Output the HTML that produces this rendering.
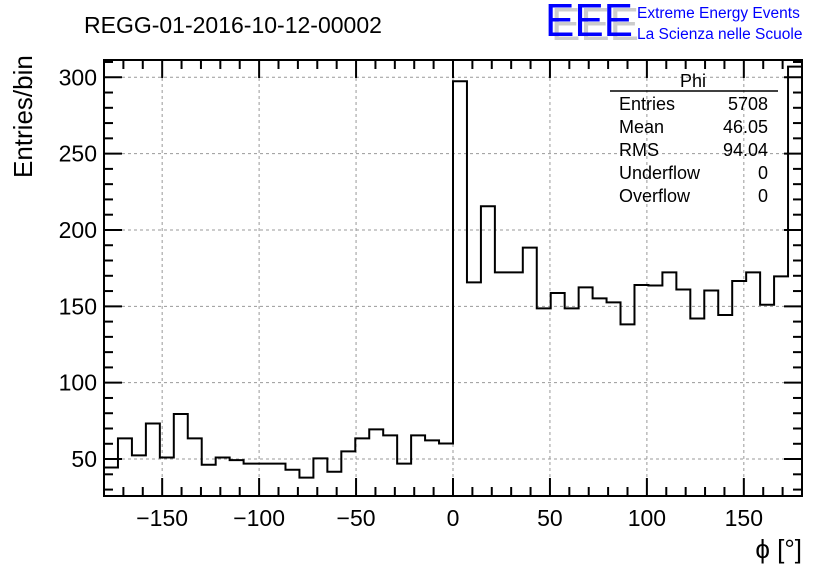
<!DOCTYPE html>
<html><head><meta charset="utf-8">
<style>body{margin:0;background:#fff}svg{display:block;font-family:"Liberation Sans",sans-serif}</style>
</head><body>
<svg id="c" width="836" height="572">
<g id="grid"></g>
<path id="hist" fill="none" stroke="#000" stroke-width="2"/>
<g id="axes"></g>
<text x="84" y="33" font-size="23">REGG-01-2016-10-12-00002</text>
<text transform="translate(32,178) rotate(-90)" font-size="26">Entries/bin</text>
<text x="802" y="558" font-size="26" text-anchor="end">ϕ [°]</text>
<g>
<text x="551" y="40" font-size="46" fill="#ccc" textLength="88" lengthAdjust="spacingAndGlyphs">EEE</text>
<text x="545" y="36" font-size="46" fill="#0000ff" textLength="88" lengthAdjust="spacingAndGlyphs">EEE</text>
<text x="637" y="18" font-size="15.5" fill="#0000ff">Extreme Energy Events</text>
<text x="637" y="39" font-size="15.5" fill="#0000ff">La Scienza nelle Scuole</text>
</g>
<g font-size="18">
<text x="693" y="87" text-anchor="middle">Phi</text>
<line x1="610" y1="91" x2="778" y2="91" stroke="#000" stroke-width="1.5"/>
<text x="619" y="110">Entries</text><text x="768" y="110" text-anchor="end">5708</text>
<text x="619" y="133">Mean</text><text x="768" y="133" text-anchor="end">46.05</text>
<text x="619" y="156">RMS</text><text x="768" y="156" text-anchor="end">94.04</text>
<text x="619" y="179">Underflow</text><text x="768" y="179" text-anchor="end">0</text>
<text x="619" y="202">Overflow</text><text x="768" y="202" text-anchor="end">0</text>
</g>
</svg>
<script>
const binEdgesRange = [-180, 180];
const counts = [44.5,63.5,52.4,73.3,51,79.5,63.5,46.3,51,49.3,47,47,47,43,37.8,50.4,41.7,55,63.5,69.4,65.5,47,65.5,62.2,60.2,
297.4,165.7,215.5,172.2,172.2,188.4,148.7,158.7,148.7,162.4,155.2,152.6,138.2,164,163.6,172.2,161,142,160.4,144.3,166.6,172.2,151,169.6,307];
const xTicks = [-150,-100,-50,0,50,100,150];
const yTicks = [50,100,150,200,250,300];
const L=104,R=802,T=60,B=496, yMin=25.8, yMax=311.3;
const X=v=>L+(v-binEdgesRange[0])/(binEdgesRange[1]-binEdgesRange[0])*(R-L);
const Y=v=>B-(v-yMin)/(yMax-yMin)*(B-T);
const NS='http://www.w3.org/2000/svg';
function mk(p,t,a){const e=document.createElementNS(NS,t);for(const k in a)e.setAttribute(k,a[k]);p.appendChild(e);return e;}
const grid=document.getElementById('grid'), axes=document.getElementById('axes');
xTicks.forEach(v=>{const e=mk(grid,'line',{x1:X(v),x2:X(v),y1:T,y2:B,stroke:'#999','stroke-dasharray':'3,3'});

});
yTicks.forEach(v=>{const e=mk(grid,'line',{x1:L,x2:R,y1:Y(v),y2:Y(v),stroke:'#999','stroke-dasharray':'3,3'});

});
const n=counts.length, w=(binEdgesRange[1]-binEdgesRange[0])/n;
let d='M'+X(binEdgesRange[0])+','+B;
counts.forEach((c,i)=>{const x0=X(binEdgesRange[0]+i*w),x1=X(binEdgesRange[0]+(i+1)*w);d+=' L'+x0+','+Y(c)+' L'+x1+','+Y(c);});
document.getElementById('hist').setAttribute('d',d);
const f=mk(axes,'rect',{x:L,y:T,width:R-L,height:B-T,fill:'none',stroke:'#000','stroke-width':2});


for(let v=-170;v<=170;v+=10){const big=v%50===0,len=big?18:9;
mk(axes,'line',{x1:X(v),x2:X(v),y1:B,y2:B-len,stroke:'#000','stroke-width':2});
mk(axes,'line',{x1:X(v),x2:X(v),y1:T,y2:T+len,stroke:'#000','stroke-width':2});}
for(let v=30;v<=310;v+=10){const big=v%50===0,len=big?18:9;
mk(axes,'line',{x1:L,x2:L+len,y1:Y(v),y2:Y(v),stroke:'#000','stroke-width':2});
mk(axes,'line',{x1:R,x2:R-len,y1:Y(v),y2:Y(v),stroke:'#000','stroke-width':2});}
xTicks.forEach(v=>{const t=mk(axes,'text',{x:X(v),y:526,'font-size':23,'text-anchor':'middle'});t.textContent=(v<0?'\u2212'+(-v):v);

});
yTicks.forEach(v=>{const t=mk(axes,'text',{x:97,y:Y(v)+8,'font-size':23,'text-anchor':'end'});t.textContent=v;

});
</script>
</body></html>
